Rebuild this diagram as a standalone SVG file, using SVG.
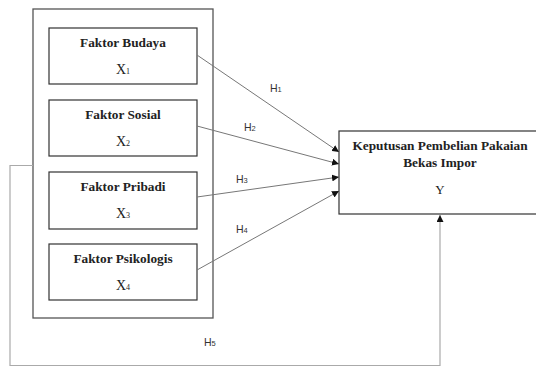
<svg xmlns="http://www.w3.org/2000/svg" width="536" height="367" viewBox="0 0 536 367">
<style>
.box{fill:#fff;stroke:#333;stroke-width:1.2}
.outer{fill:none;stroke:#555;stroke-width:1.3}
.t{font-family:"Liberation Serif",serif;font-weight:bold;font-size:13.3px;fill:#222;text-anchor:middle}
.x{font-family:"Liberation Serif",serif;font-size:14px;fill:#222;text-anchor:middle}
.sub{font-size:8px}
.h{font-family:"Liberation Sans",sans-serif;font-size:10.5px;fill:#333}
.hs{font-size:7.5px}
.c{fill:none;stroke:#777;stroke-width:1}
.loop{fill:none;stroke:#aaa;stroke-width:1.2}
</style>
<defs>
<marker id="ah" viewBox="0 0 10 10" refX="10" refY="5" markerWidth="7" markerHeight="7" markerUnits="userSpaceOnUse" orient="auto">
<path d="M0,0 L10,5 L0,10 z" fill="#111"/>
</marker>
</defs>
<g id="outer"><rect class="outer" x="33" y="9" width="180" height="309"/></g>
<g id="x1"><rect class="box" x="49" y="28" width="148" height="56"/><text class="t" x="123" y="47">Faktor Budaya</text><text class="x" x="123" y="74">X<tspan class="sub">1</tspan></text></g>
<g id="x2"><rect class="box" x="49" y="100" width="148" height="56"/><text class="t" x="123" y="119">Faktor Sosial</text><text class="x" x="123" y="146">X<tspan class="sub">2</tspan></text></g>
<g id="x3"><rect class="box" x="49" y="172" width="148" height="57"/><text class="t" x="123" y="191">Faktor Pribadi</text><text class="x" x="123" y="218">X<tspan class="sub">3</tspan></text></g>
<g id="x4"><rect class="box" x="49" y="244" width="148" height="56"/><text class="t" x="123" y="263">Faktor Psikologis</text><text class="x" x="123" y="290">X<tspan class="sub">4</tspan></text></g>
<g id="y"><rect class="box" x="339" y="131" width="200" height="83"/><text class="t" x="440" y="150">Keputusan Pembelian Pakaian</text><text class="t" x="440" y="167">Bekas Impor</text><text class="x" x="440" y="194" style="font-size:13px">Y</text></g>
<g id="connectors">
<line class="c" x1="197" y1="55" x2="339" y2="152" marker-end="url(#ah)"/>
<line class="c" x1="197" y1="126" x2="339" y2="164" marker-end="url(#ah)"/>
<line class="c" x1="197" y1="197" x2="339" y2="177" marker-end="url(#ah)"/>
<line class="c" x1="197" y1="270" x2="339" y2="191" marker-end="url(#ah)"/>
<polyline class="loop" points="33,165.5 10,165.5 10,365.5 440,365.5 440,215" marker-end="url(#ah)"/>
<text class="h" x="270" y="92">H<tspan class="hs">1</tspan></text>
<text class="h" x="244" y="131">H<tspan class="hs">2</tspan></text>
<text class="h" x="236" y="183">H<tspan class="hs">3</tspan></text>
<text class="h" x="236" y="233">H<tspan class="hs">4</tspan></text>
<text class="h" x="204" y="346">H<tspan class="hs">5</tspan></text>
</g>
</svg>
